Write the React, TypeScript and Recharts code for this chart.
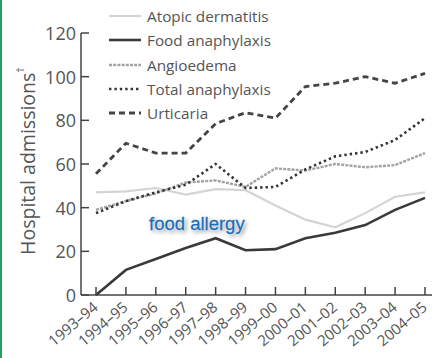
import React from 'react';
import { LineChart, Line, XAxis, YAxis, Legend, Label } from 'recharts';

const categories = ['1993–94', '1994–95', '1995–96', '1996–97', '1997–98', '1998–99', '1999–00', '2000–01', '2001–02', '2002–03', '2003–04', '2004–05'];
const atopicDermatitis = [47, 47.5, 49, 46, 48.5, 48, 41, 34.5, 31, 37.5, 45, 47];
const foodAnaphylaxis = [0, 11.5, 16.5, 21.5, 26, 20.5, 21, 26, 28.5, 32, 39, 44.5];
const angioedema = [39, 43, 46.5, 51.5, 52.5, 49.5, 58, 57, 60, 58.5, 59.5, 65];
const totalAnaphylaxis = [37.5, 43, 47, 50.5, 60, 49, 49.5, 57.5, 63.5, 65.5, 71, 81];
const urticaria = [55.5, 69.5, 65, 65, 78.5, 83.5, 81, 95.5, 97, 100, 97, 101.5];
const yTicks = [0, 20, 40, 60, 80, 100, 120];

const data = categories.map((c, i) => ({
  year: c,
  atopic: atopicDermatitis[i],
  food: foodAnaphylaxis[i],
  angio: angioedema[i],
  total: totalAnaphylaxis[i],
  urticaria: urticaria[i],
}));

const FONT = '"Open Sans", "Liberation Sans", sans-serif';
const TEXT = '#555';
const AXIS = '#444';

const series = [
  { key: 'atopic', name: 'Atopic dermatitis', stroke: '#d4d4d4', width: 2.2, dash: undefined as string | undefined },
  { key: 'food', name: 'Food anaphylaxis', stroke: '#3a3a3a', width: 2.6, dash: undefined as string | undefined },
  { key: 'angio', name: 'Angioedema', stroke: '#a2a2a2', width: 2.4, dash: '3 1.2' },
  { key: 'total', name: 'Total anaphylaxis', stroke: '#333', width: 2.6, dash: '2.4 3' },
  { key: 'urticaria', name: 'Urticaria', stroke: '#444', width: 2.8, dash: '6 4' },
];

const YTick = (props: any) => {
  const { x, y, payload } = props;
  return (
    <g>
      <line x1={x + 5} y1={y} x2={x + 13} y2={y} stroke={AXIS} strokeWidth={1.5} />
      <text x={x} y={y} textAnchor="end" dominantBaseline="central" fontFamily={FONT} fontSize={18} fill={TEXT}>
        {payload.value}
      </text>
    </g>
  );
};

const XTick = (props: any) => {
  const { x, y, payload } = props;
  const ax = x + 3;
  const ay = y + 14;
  return (
    <g>
      <line x1={x} y1={y} x2={x} y2={y - 8} stroke={AXIS} strokeWidth={1.5} />
      <text
        x={ax}
        y={ay}
        textAnchor="end"
        transform={`rotate(-40 ${ax} ${ay})`}
        fontFamily={FONT}
        fontSize={15}
        fill={TEXT}
      >
        {payload.value}
      </text>
    </g>
  );
};

const LegendContent = () => (
  <div style={{ fontFamily: FONT, fontSize: 15.3, color: TEXT }}>
    {series.map((s) => (
      <div key={s.key} style={{ display: 'flex', alignItems: 'center', height: 24.3 }}>
        <svg width={34} height={10} style={{ marginRight: 5 }}>
          <line x1={1} y1={5} x2={33} y2={5} stroke={s.stroke} strokeWidth={s.width} strokeDasharray={s.dash} />
        </svg>
        <span>{s.name}</span>
      </div>
    ))}
  </div>
);

const YLabel = (props: any) => {
  const vb = props.viewBox || {};
  const cx = vb.x + 6;
  const cy = vb.y + vb.height / 2 - 3;
  return (
    <text
      x={cx}
      y={cy}
      textAnchor="middle"
      dominantBaseline="central"
      transform={`rotate(-90 ${cx} ${cy})`}
      fontFamily={FONT}
      fontSize={19.5}
      fill={TEXT}
    >
      Hospital admissions
      <tspan dy={-8} fontSize={11}>†</tspan>
    </text>
  );
};

export default function App() {
  return (
    <div style={{ position: 'absolute', left: 0, top: 0, width: 442, height: 358, background: '#fff' }}>
      <div style={{ position: 'absolute', left: 0, top: 0, width: 2, height: 358, background: '#2a9a66' }} />
      <LineChart width={442} height={358} data={data} margin={{ top: 33, right: 10, bottom: 3, left: 21 }}>
        <XAxis
          dataKey="year"
          interval={0}
          tickSize={0}
          tickMargin={0}
          tick={<XTick />}
          height={60}
          padding={{ left: 15, right: 7 }}
          axisLine={{ stroke: AXIS, strokeWidth: 1.5 }}
          tickLine={false}
        />
        <YAxis
          domain={[0, 120]}
          ticks={yTicks}
          width={60}
          tickSize={0}
          tickMargin={5}
          tick={<YTick />}
          tickLine={false}
          axisLine={{ stroke: AXIS, strokeWidth: 1.5 }}
        >
          <Label content={<YLabel />} />
        </YAxis>
        <Legend
          layout="vertical"
          align="center"
          verticalAlign="middle"
          content={<LegendContent />}
          wrapperStyle={{ top: 4, left: 108, width: 200 }}
        />
        {series.map((s) => (
          <Line
            key={s.key}
            type="linear"
            dataKey={s.key}
            name={s.name}
            stroke={s.stroke}
            strokeWidth={s.width}
            strokeDasharray={s.dash}
            dot={false}
            activeDot={false}
            isAnimationActive={false}
          />
        ))}
      </LineChart>
      <div
        style={{
          position: 'absolute',
          left: 149,
          top: 213,
          fontFamily: '"Liberation Sans", Arial, sans-serif',
          fontSize: 18.5,
          color: '#1b6db5',
          textShadow: '0 0 2px #fff, 0 0 2px #fff, 0 0 1px #fff, 2px 2px 4px rgba(0,0,0,0.55)',
          whiteSpace: 'nowrap',
          lineHeight: '22px',
          WebkitTextStroke: '0.3px #1b6db5',
        }}
      >
        food allergy
      </div>
    </div>
  );
}
